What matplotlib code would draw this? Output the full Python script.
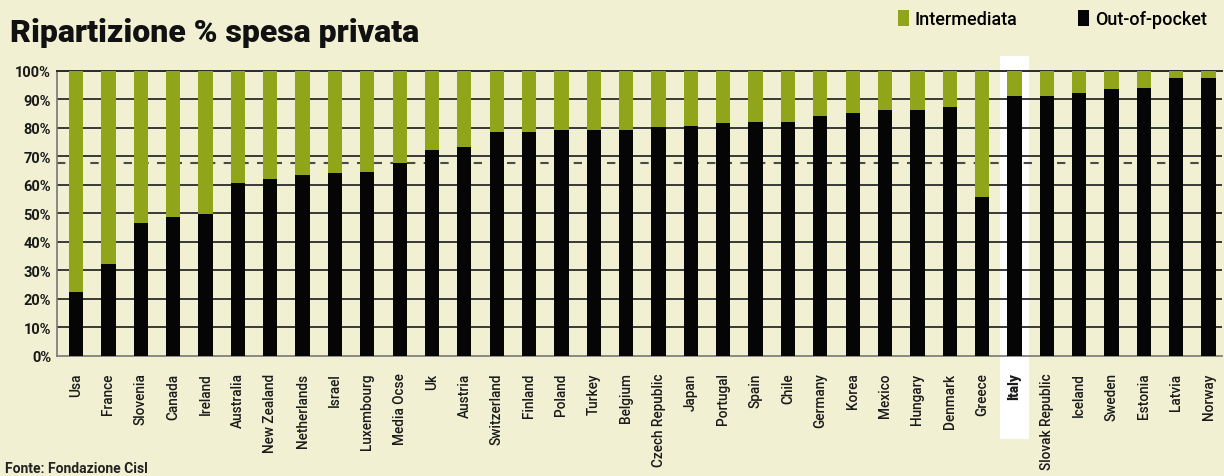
import matplotlib
matplotlib.use("Agg")
import matplotlib.pyplot as plt
from matplotlib.patches import Rectangle, Patch
import matplotlib.transforms as mtransforms

countries = ["Usa", "France", "Slovenia", "Canada", "Ireland", "Australia", "New Zealand",
             "Netherlands", "Israel", "Luxembourg", "Media Ocse", "Uk", "Austria", "Switzerland",
             "Finland", "Poland", "Turkey", "Belgium", "Czech Republic", "Japan", "Portugal",
             "Spain", "Chile", "Germany", "Korea", "Mexico", "Hungary", "Denmark", "Greece",
             "Italy", "Slovak Republic", "Iceland", "Sweden", "Estonia", "Latvia", "Norway"]
out_of_pocket = [22.3, 32.2, 46.5, 48.5, 49.7, 60.6, 62.0, 63.3, 64.0, 64.5, 67.5, 72.2,
                 73.3, 78.3, 78.3, 79.1, 79.1, 79.1, 80.1, 80.7, 81.5, 82.1, 82.1, 84.2,
                 85.0, 86.3, 86.3, 87.1, 55.6, 91.2, 91.2, 92.1, 93.5, 93.9, 97.5, 97.5]
intermediata = [100 - v for v in out_of_pocket]
ocse_average = 67.5
highlight = "Italy"
yticks = list(range(0, 101, 10))
ytick_labels = [f"{t}%" for t in yticks]

BG = "#f1f0d3"
GREEN = "#90a51a"
BLACK = "#050505"

fig = plt.figure(figsize=(12.24, 4.77), dpi=100, facecolor=BG)
ax = fig.add_axes([0.0463, 0.252, 0.9517, 0.598])
ax.set_facecolor(BG)

x = list(range(len(countries)))
ax.bar(x, out_of_pocket, width=0.44, color=BLACK, zorder=3)
ax.bar(x, intermediata, bottom=out_of_pocket, width=0.44, color=GREEN, zorder=3)

ax.set_xlim(-0.6, 35.4)
ax.set_ylim(0, 100)

# highlight column for Italy
hi = countries.index(highlight)
trans = mtransforms.blended_transform_factory(ax.transData, ax.transAxes)
ax.add_patch(Rectangle((hi - 0.46, -0.292), 0.92, 1.343, transform=trans,
                       facecolor="white", edgecolor="none", zorder=0.5, clip_on=False))

# grid lines
for t in yticks[1:-1]:
    ax.axhline(t, color="#2a2a2a", lw=1.3, zorder=1)
ax.axhline(ocse_average, color="#4a4a4a", lw=1.5, ls=(0, (4, 4)), zorder=1.5)

ax.spines["right"].set_visible(False)
ax.spines["top"].set_color("#2a2a2a")
ax.spines["top"].set_linewidth(1.4)
ax.spines["left"].set_color("#777777")
ax.spines["bottom"].set_color("#777777")
ax.spines["left"].set_linewidth(1.2)
ax.spines["bottom"].set_linewidth(1.2)

ax.set_yticks(yticks)
ax.set_yticklabels(ytick_labels, fontfamily="Roboto", fontweight="bold", fontsize=10.5, color="#1a1a1a")
ax.set_xticks(x)
ax.set_xticklabels(countries, rotation=90, fontfamily="Roboto", fontweight="medium",
                   fontsize=9.8, color="#1a1a1a", va="top", ha="center")
for lbl in ax.get_xticklabels():
    if lbl.get_text() == highlight:
        lbl.set_fontweight("black")
ax.tick_params(axis="x", length=0, pad=12)
ax.tick_params(axis="y", length=0, pad=4)

fig.text(0.008, 0.931, "Ripartizione % spesa privata", fontfamily="Roboto", fontweight="black",
         fontsize=23, color="#111111", va="center", ha="left")

handles = [Patch(facecolor=GREEN, edgecolor="none"), Patch(facecolor=BLACK, edgecolor="none")]
fig.legend(handles, ["Intermediata", "Out-of-pocket"], loc="upper right",
           bbox_to_anchor=(0.999, 1.012), ncol=2, frameon=False, handlelength=0.6,
           handleheight=1.0, handletextpad=0.3, columnspacing=3.4,
           prop={"family": "Roboto", "weight": "medium", "size": 13})

fig.text(0.004, 0.002, "Fonte: Fondazione Cisl", fontfamily="Roboto", fontweight="bold",
         fontsize=10, color="#222222", va="bottom", ha="left")

fig.savefig("out.png", dpi=100, facecolor=BG)
